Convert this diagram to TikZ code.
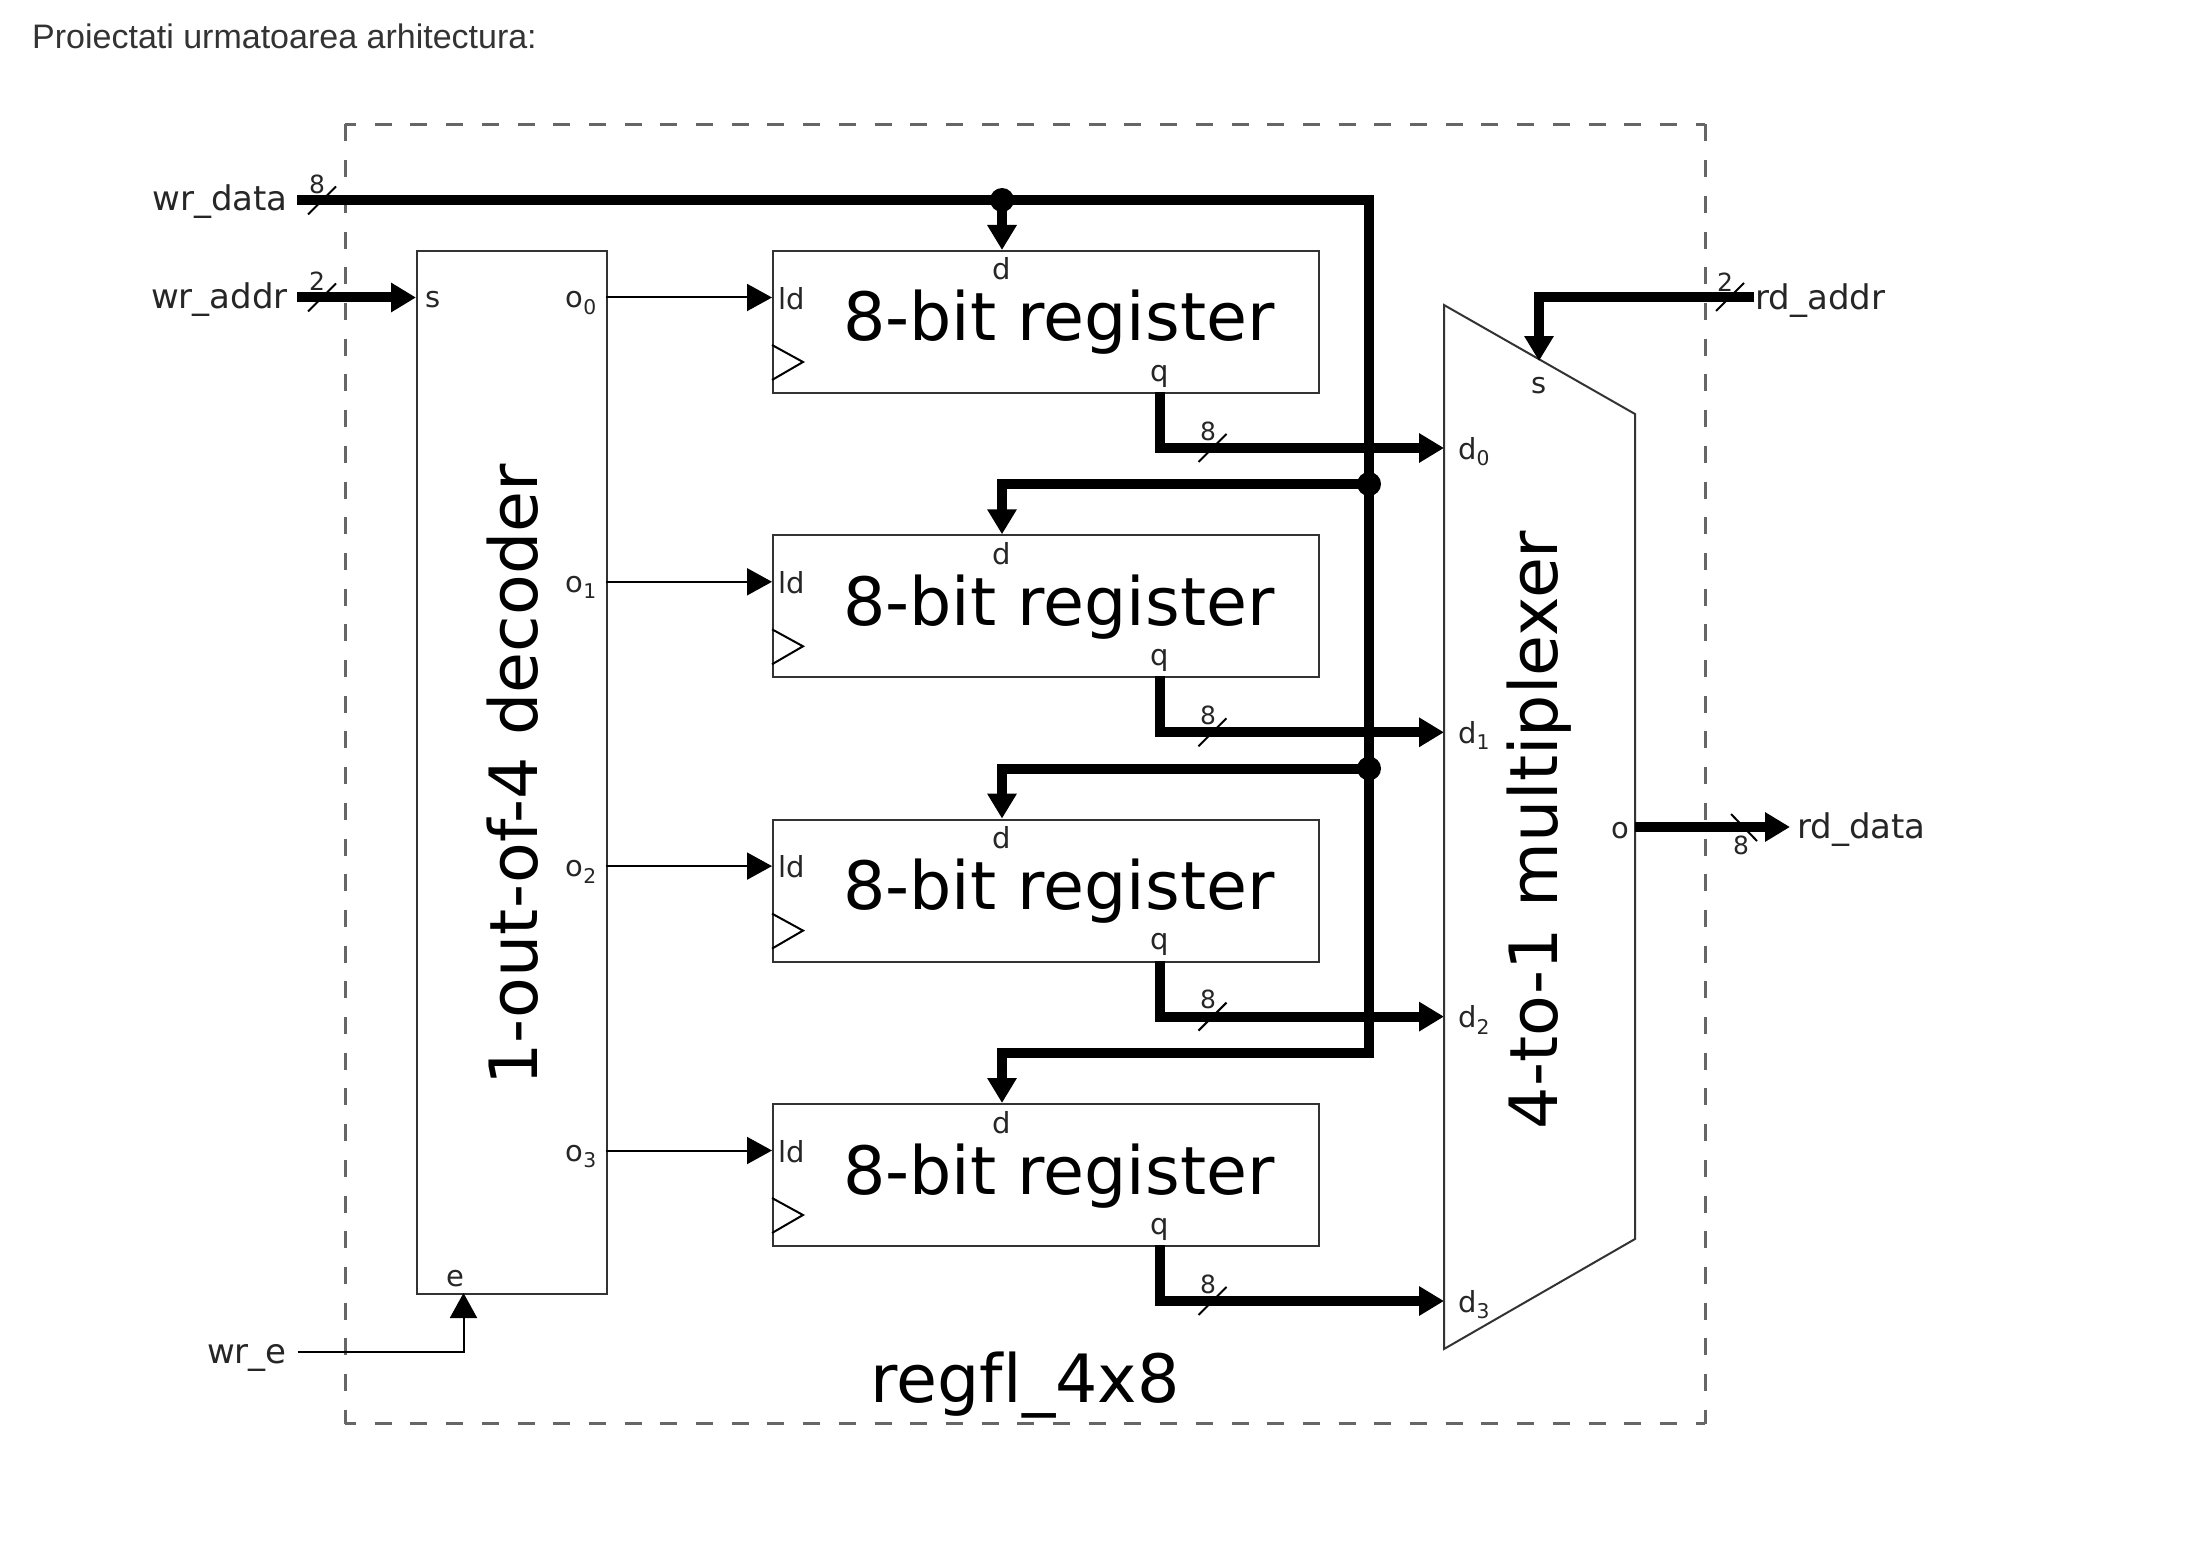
\documentclass[tikz,border=0pt]{standalone}
\usepackage{fontspec}
\setmainfont{DejaVu Sans}
\newfontfamily\titlefont{Liberation Sans}
\usetikzlibrary{arrows.meta}

\tikzset{
	wire/.style={line width=2pt, draw=black},
	bus/.style={line width=10pt, draw=black},
	wirearrow/.style={wire, -{Triangle[length=25pt,width=27pt]}},
	busarrow/.style={bus, -{Triangle[length=25pt,width=28pt]}},
	box/.style={draw=black!80, line width=2pt, inner sep=0pt, anchor=north west},
	port/.style={font=\fontsize{29}{32}\selectfont, text=black!85, inner sep=0pt},
	extern/.style={font=\fontsize{34}{37}\selectfont, text=black!85, inner sep=0pt},
	width/.style={font=\fontsize{25}{28}\selectfont, text=black!85, inner sep=0pt, anchor=base},
	big/.style={font=\fontsize{66.6}{72}\selectfont, inner sep=0pt},
	junction/.style={circle, fill=black, inner sep=0pt, minimum size=24pt},
	framedash/.style={draw=black!60, line width=3pt, dash pattern=on 17pt off 18.7pt},
}

\def\muxCoords{\coordinate (M0) at (1444,305);\coordinate (M1) at (1635,414);\coordinate (M2) at (1635,1239);\coordinate (M3) at (1444,1349);}

% small slanted tick over a bus
\def\busTick#1{\draw[wire] ([shift={(-14,14)}]#1) -- ([shift={(14,-14)}]#1);}

% one register, y counted from the top one
\def\registerBlock#1{
	\node[box, minimum width=546pt, minimum height=142pt] (reg#1) at (772,250) {};
	\node[big, anchor=base west] (regtext#1) at (843,341) {8-bit register};
	\node[port, anchor=base] (d#1) at (1002,280) {d};
	\node[port, anchor=base west] (ld#1) at (778,309) {ld};
	\node[port, anchor=base] (q#1) at (1160,381) {q};
	\node[width] (qw#1) at (1208,440) {8};
	\coordinate (din#1) at (1002,250);
	\coordinate (ldin#1) at (772,297.5);
	\coordinate (qout#1) at (1160,392);
	\coordinate (qbend#1) at (1160,448);
	\coordinate (qtick#1) at (1212.5,448);
	\coordinate (muxin#1) at (1444,448);
	\coordinate (decout#1) at (606,297.5);
	\node[port, anchor=base east] (o#1) at (597,308) {o\textsubscript{#1}};
	\draw[wire] (772,345) -- (803,362) -- (772,380);
	\draw[wirearrow] (decout#1) -- (ldin#1);
	\draw[bus] (qout#1) -- (qbend#1) -- (qtick#1);
	\draw[busarrow] (qtick#1) -- (muxin#1);
	\busTick{qtick#1}
	\node[port, anchor=base west] (muxd#1) at (1458,459) {d\textsubscript{#1}};
}

\begin{document}
\begin{tikzpicture}[x=1pt, y=-1pt, line cap=butt, line join=miter]
	\useasboundingbox (0,0) rectangle (2190,1546);

	\node[font=\titlefont\fontsize{34}{37}\selectfont, text=black!80, inner sep=0pt, anchor=base west] (title) at (32,49) {Proiectati urmatoarea arhitectura:};

	% outer frame
	\node[inner sep=0pt, minimum width=1360pt, minimum height=1299pt, anchor=north west] (frame) at (345,124.5) {};
	\draw[framedash, dash phase=6pt] (frame.north west) -- (frame.north east);
	\draw[framedash, dash phase=6pt] (frame.south west) -- (frame.south east);
	\draw[framedash] (frame.north west) -- (frame.south west);
	\draw[framedash] (frame.north east) -- (frame.south east);
	\node[big, anchor=base west] (regfl) at (870,1402) {regf\kern1pt l\_4x8};

	% decoder
	\node[big, rotate=90, anchor=base] (dectext) at (537,775) {1-out-of-4 decoder};
	\node[box, minimum width=190pt, minimum height=1043pt] (decoder) at (416,250) {};
	\node[port, anchor=base] (decs) at (433,307.5) {s};
	\node[port, anchor=base] (dece) at (455,1286) {e};
	\coordinate (decsin) at (416,297.5);
	\coordinate (decein) at (463.5,1293);

	% registers
	\begin{scope}[shift={(0,0)}]
		\registerBlock{0}
	\end{scope}

	\begin{scope}[shift={(0,284.3)}]
		\registerBlock{1}
	\end{scope}

	\begin{scope}[shift={(0,568.6)}]
		\registerBlock{2}
	\end{scope}

	\begin{scope}[shift={(0,853)}]
		\registerBlock{3}
	\end{scope}

	% mux
	\muxCoords
	\draw[wire, draw=black!80] (M0)--(M1)--(M2)--(M3)--cycle;
	\node[big, rotate=90, anchor=base] (muxtext) at (1557.5,830) {4-to-1 multiplexer};
	\node[port, anchor=base] (muxs) at (1539,393.5) {s};
	\node[port, anchor=base] (muxo) at (1620,838) {o};
	\coordinate (muxsin) at (1539,361);
	\coordinate (muxout) at (1635,827);

	% outside signals
	\node[extern, anchor=base east] (wrdata) at (288,211) {wr\_data};
	\node[extern, anchor=base east] (wraddr) at (288,308.5) {wr\_addr};
	\node[extern, anchor=base east] (wre) at (287,1363) {wr\_e};
	\node[extern, anchor=base west] (rdaddr) at (1755,309) {rd\_addr};
	\node[extern, anchor=base west] (rddata) at (1797,838) {rd\_data};

	\coordinate (wrdatain) at (297,200);
	\coordinate (wraddrin) at (297,297.5);
	\coordinate (wrein) at (297.5,1352);
	\coordinate (rdaddrin) at (1754,297.5);
	\coordinate (rddataout) at (1790,827);

	% write data bus
	\node[junction] (dot0) at (1002,200) {};
	\node[junction] (dot1) at (1369,484) {};
	\node[junction] (dot2) at (1369,768.5) {};
	\draw[bus] (wrdatain) -- (dot0.center) -- (1369,200) -- (1369,1053) -- (1002,1053) -- (1002,1078);
	\draw[busarrow] (dot0.center) -- (din0);
	\draw[busarrow] (dot1.center) -- (1002,484) -- (din1);
	\draw[busarrow] (dot2.center) -- (1002,768.5) -- (din2);
	\draw[busarrow] (1002,1053) -- (din3);

	\draw[busarrow] (wraddrin) -- (decsin);
	\draw[wirearrow] (wrein) -- (463.5,1352) -- (decein);
	\draw[busarrow] (rdaddrin) -- (1539,297.5) -- (muxsin);
	\draw[busarrow] (muxout) -- (rddataout);

	% bus widths outside
	\coordinate (tickdata) at (322,200.5);
	\coordinate (tickaddr) at (322,297.5);
	\coordinate (tickrd) at (1730,297);
	\busTick{tickdata}
	\busTick{tickaddr}
	\busTick{tickrd}
	\draw[wire] (1731,814) -- (1757,841);
	\node[width] (w0) at (317,194) {8};
	\node[width] (w1) at (317,291) {2};
	\node[width] (w2) at (1725,291.5) {2};
	\node[width] (w3) at (1741,854) {8};
\end{tikzpicture}
\end{document}
